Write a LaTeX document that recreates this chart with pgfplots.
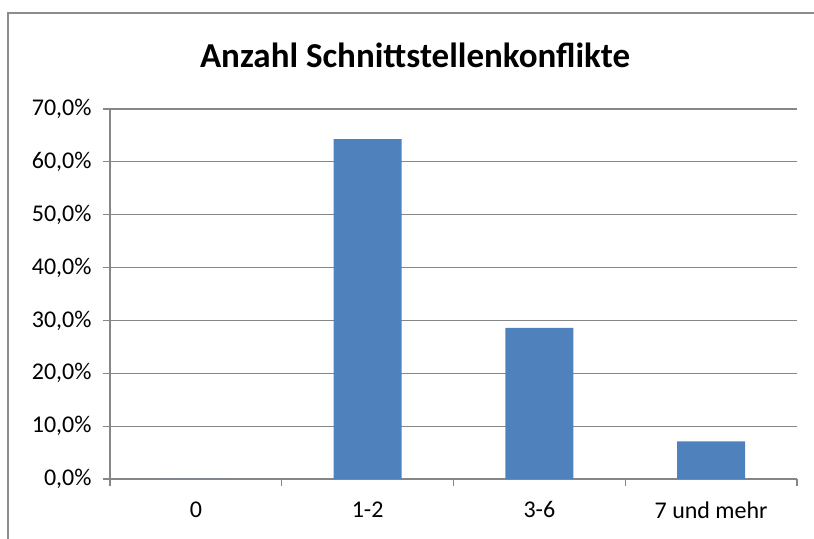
\documentclass[border=0pt]{standalone}
\usepackage{pgfplots}
\pgfplotsset{compat=1.18}
\usepackage{fontspec}
\setmainfont{Carlito}
\definecolor{barblue}{HTML}{4F81BD}
\definecolor{gridgray}{HTML}{868686}
\definecolor{framegray}{HTML}{8C8C8C}
\begin{document}
\begin{tikzpicture}[x=1bp,y=1bp]
\useasboundingbox (0,0) rectangle (814,539);
\draw[framegray, line width=1.6bp] (8,0) -- (8,526) -- (814,526);
\node[anchor=base, font=\fontsize{35bp}{40bp}\selectfont\bfseries] at (415,471) {Anzahl Schnittstellenkonflikte};
\begin{axis}[
  at={(110bp,60bp)}, anchor=south west,
  scale only axis, width=687bp, height=370bp,
  ybar, bar width=68bp, bar shift=0pt,
  xmin=-0.5, xmax=3.5, ymin=0, ymax=70,
  axis lines*=left,
  axis line style={draw=gridgray, line width=1.2bp},
  xtick={0,1,2,3},
  xticklabels={0,1-2,3-6,7 und mehr},
  minor xtick={-0.5,0.5,1.5,2.5,3.5},
  ytick={0,10,20,30,40,50,60,70},
  yticklabels={{0,0\%},{10,0\%},{20,0\%},{30,0\%},{40,0\%},{50,0\%},{60,0\%},{70,0\%}},
  tick align=outside,
  major tick length=7bp,
  minor tick length=7bp,
  major x tick style={draw=none},
  tick style={draw=gridgray, line width=1.2bp},
  ymajorgrids,
  grid style={draw=gridgray, line width=1.2bp},
  ticklabel style={font=\fontsize{24bp}{28bp}\selectfont, text=black},
  yticklabel style={xshift=-8bp},
  xticklabel style={yshift=-12bp},
]
\addplot[fill=barblue, draw=none] coordinates {(0,0) (1,64.3) (2,28.6) (3,7.1)};
\end{axis}
\end{tikzpicture}
\end{document}
